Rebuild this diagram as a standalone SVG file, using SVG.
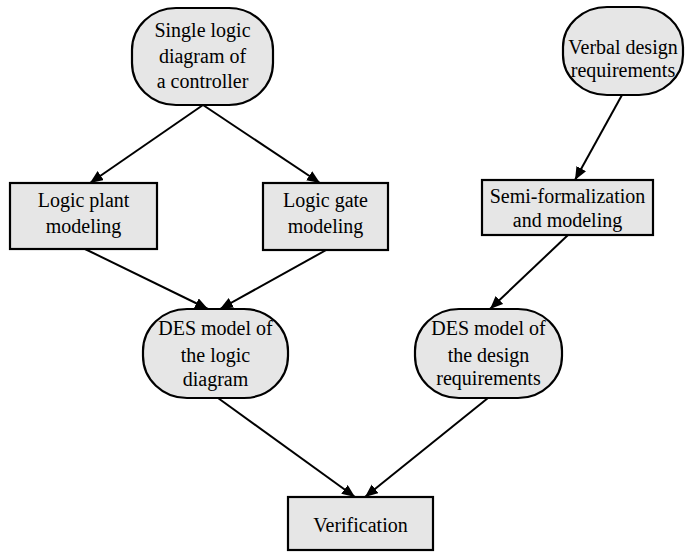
<svg xmlns="http://www.w3.org/2000/svg" width="685" height="552" viewBox="0 0 685 552">
<style>
.n{fill:#e6e6e6;stroke:#000;stroke-width:2.2}
.t{font-family:'Liberation Serif','DejaVu Serif',serif;font-size:20px;fill:#000;text-anchor:middle}
.c{stroke:#000;stroke-width:2;fill:none;marker-end:url(#ah)}
</style>
<defs>
<marker id="ah" markerUnits="userSpaceOnUse" markerWidth="14" markerHeight="12" refX="13" refY="5.5" orient="auto">
<path d="M0,0 L13,5.5 L0,11 z" fill="#000"/>
</marker>
</defs>
<rect width="685" height="552" fill="#fff"/>
<g id="connectors">
<line class="c" x1="203" y1="105" x2="90" y2="183"/>
<line class="c" x1="203" y1="105" x2="320" y2="183"/>
<line class="c" x1="622" y1="95" x2="575" y2="180"/>
<line class="c" x1="85" y1="249" x2="208" y2="309"/>
<line class="c" x1="328" y1="249" x2="220" y2="309"/>
<line class="c" x1="568" y1="235" x2="490" y2="309"/>
<line class="c" x1="218" y1="398" x2="355" y2="497"/>
<line class="c" x1="488" y1="398" x2="365" y2="497"/>
</g>
<g id="single-logic">
<rect class="n" x="132" y="8" width="141" height="97" rx="44" ry="42"/>
<text class="t" font-family="Liberation Serif, serif" x="202.5" y="37">Single logic</text>
<text class="t" font-family="Liberation Serif, serif" x="202.5" y="63">diagram of</text>
<text class="t" font-family="Liberation Serif, serif" x="202.5" y="88">a controller</text>
</g>
<g id="verbal">
<rect class="n" x="563" y="7" width="120" height="88" rx="44" ry="40"/>
<text class="t" x="623" y="54">Verbal design</text>
<text class="t" x="623" y="77">requirements</text>
</g>
<g id="logic-plant">
<rect class="n" x="10" y="183" width="147" height="66"/>
<text class="t" x="83.5" y="207">Logic plant</text>
<text class="t" x="83.5" y="233">modeling</text>
</g>
<g id="logic-gate">
<rect class="n" x="263" y="183" width="125" height="67"/>
<text class="t" x="325.5" y="207">Logic gate</text>
<text class="t" x="325.5" y="233">modeling</text>
</g>
<g id="semi">
<rect class="n" x="482" y="180" width="171" height="55"/>
<text class="t" x="567.5" y="203">Semi-formalization</text>
<text class="t" x="567.5" y="227">and modeling</text>
</g>
<g id="des-logic">
<rect class="n" x="143" y="309" width="145" height="89" rx="44" ry="42"/>
<text class="t" x="215.5" y="335">DES model of</text>
<text class="t" x="215.5" y="362">the logic</text>
<text class="t" x="215.5" y="386">diagram</text>
</g>
<g id="des-design">
<rect class="n" x="415" y="309" width="147" height="89" rx="44" ry="42"/>
<text class="t" x="488.5" y="335">DES model of</text>
<text class="t" x="488.5" y="362">the design</text>
<text class="t" x="488.5" y="385">requirements</text>
</g>
<g id="verification">
<rect class="n" x="288" y="497" width="145" height="53"/>
<text class="t" x="360.5" y="532">Verification</text>
</g>
</svg>
